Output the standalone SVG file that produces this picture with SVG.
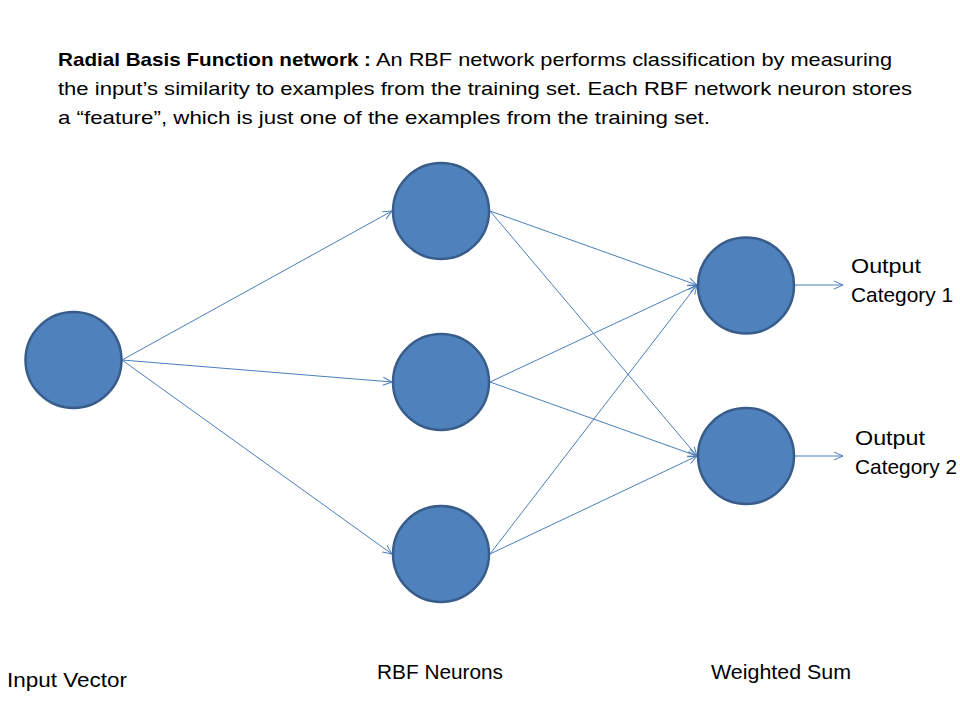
<svg xmlns="http://www.w3.org/2000/svg" width="960" height="720" viewBox="0 0 960 720">
<style>
.node{fill:#4F81BD;stroke:#385D8A;stroke-width:2.5}
.conn{stroke:#4A7EBB;stroke-width:1;fill:none;marker-end:url(#arr)}
text{font-family:"Liberation Sans",Arial,sans-serif;fill:#000}
.hdr{font-size:19px}
.b{font-weight:bold}
.lbl{font-size:21px}
</style>
<defs>
<marker id="arr" viewBox="0 0 10 10" refX="9.5" refY="5" markerWidth="10" markerHeight="10" markerUnits="userSpaceOnUse" orient="auto">
<path d="M0.5,1 L9.5,5 L0.5,9" fill="none" stroke="#4A7EBB" stroke-width="1"/>
</marker>
</defs>
<rect width="960" height="720" fill="#fff"/>
<g id="header">
<text class="hdr b" x="58" y="66" textLength="313" lengthAdjust="spacingAndGlyphs">Radial Basis Function network :</text>
<text class="hdr" x="376" y="66" textLength="516" lengthAdjust="spacingAndGlyphs">An RBF network performs  classification by measuring</text>
<text class="hdr" x="58" y="95" textLength="854" lengthAdjust="spacingAndGlyphs">the input’s similarity to examples from the training set.  Each RBF network neuron stores</text>
<text class="hdr" x="58" y="124" textLength="652" lengthAdjust="spacingAndGlyphs">a “feature”, which is just one of the examples from the training set.</text>
</g>
<g id="connectors">
<line class="conn" x1="122" y1="360" x2="392" y2="211"/>
<line class="conn" x1="122" y1="360" x2="392" y2="382"/>
<line class="conn" x1="122" y1="360" x2="392" y2="554"/>
<line class="conn" x1="490" y1="211" x2="697" y2="285"/>
<line class="conn" x1="490" y1="211" x2="697" y2="456"/>
<line class="conn" x1="490" y1="382" x2="697" y2="285"/>
<line class="conn" x1="490" y1="382" x2="697" y2="456"/>
<line class="conn" x1="490" y1="554" x2="697" y2="285"/>
<line class="conn" x1="490" y1="554" x2="697" y2="456"/>
<line class="conn" x1="795" y1="285" x2="843" y2="285"/>
<line class="conn" x1="795" y1="456" x2="843" y2="456"/>
</g>
<g id="input"><circle class="node" cx="73.5" cy="360" r="48"/></g>
<g id="rbf1"><circle class="node" cx="441" cy="211" r="48"/></g>
<g id="rbf2"><circle class="node" cx="441" cy="382" r="48"/></g>
<g id="rbf3"><circle class="node" cx="441" cy="554" r="48"/></g>
<g id="out1"><circle class="node" cx="746" cy="285.5" r="48"/></g>
<g id="out2"><circle class="node" cx="746" cy="456" r="48"/></g>
<g id="labels">
<text class="lbl" x="7" y="687" textLength="120" lengthAdjust="spacingAndGlyphs">Input Vector</text>
<text class="lbl" x="377" y="679" textLength="126" lengthAdjust="spacingAndGlyphs">RBF Neurons</text>
<text class="lbl" x="711" y="679" textLength="140" lengthAdjust="spacingAndGlyphs">Weighted Sum</text>
<text class="lbl" x="851" y="273" textLength="70" lengthAdjust="spacingAndGlyphs">Output</text>
<text class="lbl" x="851" y="302" textLength="102" lengthAdjust="spacingAndGlyphs">Category 1</text>
<text class="lbl" x="855" y="445" textLength="70" lengthAdjust="spacingAndGlyphs">Output</text>
<text class="lbl" x="855" y="474" textLength="102" lengthAdjust="spacingAndGlyphs">Category 2</text>
</g>
</svg>
